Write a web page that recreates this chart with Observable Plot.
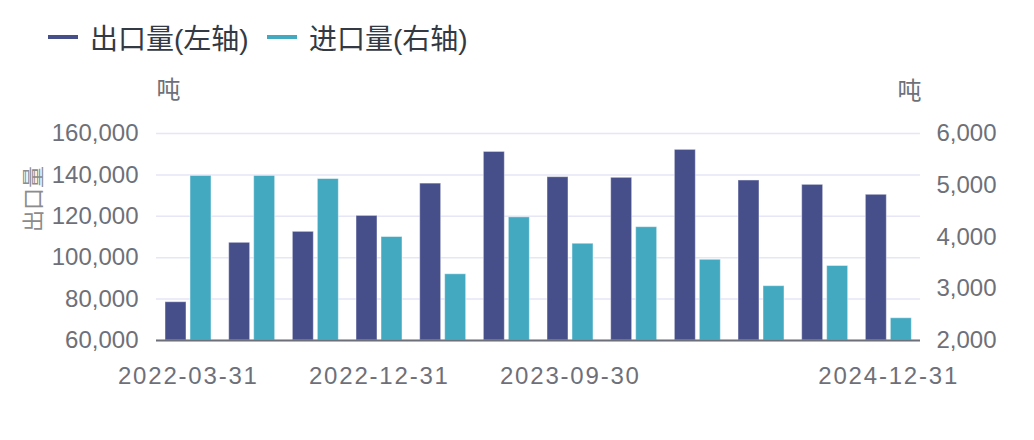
<!DOCTYPE html>
<html>
<head>
<meta charset="utf-8">
<script src="https://cdn.jsdelivr.net/npm/d3@7"></script>
<script src="https://cdn.jsdelivr.net/npm/@observablehq/plot@0.6"></script>
<style>
  body { margin: 0; background: #fff; font-family: "Liberation Sans", "Noto Sans CJK SC", sans-serif; }
  #legend { position: relative; height: 75px; }
  .item { position: absolute; top: 18px; display: flex; align-items: center; height: 38px; font-size: 28px; color: #333a44; font-family: "Liberation Sans", "Noto Sans CJK SC", sans-serif; }
  .sw { width: 30px; height: 4px; margin-right: 12px; }
  svg { display: block; }
  g[aria-label="x-axis tick label"] text { letter-spacing: 1.8px; }
</style>
</head>
<body>
<div id="legend"></div>
<div id="chart"></div>
<script>
const dates = ["2022-03-31","2022-06-30","2022-09-30","2022-12-31","2023-03-31","2023-06-30","2023-09-30","2023-12-31","2024-03-31","2024-06-30","2024-09-30","2024-12-31"];
const exportVals = [78500, 107200, 112500, 120200, 135800, 151100, 138900, 138600, 152100, 137300, 135200, 130400];
const importVals = [5180, 5180, 5120, 4000, 3280, 4380, 3870, 4190, 3560, 3050, 3440, 2430];
const leftTicks = [60000, 80000, 100000, 120000, 140000, 160000];
const rightTicks = [2000, 3000, 4000, 5000, 6000];
const xTickLabels = ["2022-03-31", "2022-12-31", "2023-09-30", "2024-12-31"];
const seriesNames = ["出口量(左轴)", "进口量(右轴)"];
const colors = ["#474f8b", "#43a9c1"];
const unitLabel = "吨";
const leftTitle = "出口量";

const toLeft = v => 60000 + (v - 2000) * 25;
const fromLeft = v => (v - 60000) / 25 + 2000;
const rows = dates.map((d, i) => ({date: d, exp: exportVals[i], imp: importVals[i]}));

// legend
const legend = document.getElementById("legend");
const lx = [48, 267];
seriesNames.forEach((n, i) => {
  const it = document.createElement("div");
  it.className = "item";
  it.style.left = lx[i] + "px";
  it.innerHTML = `<div class="sw" style="background:${colors[i]}"></div><span>${n}</span>`;
  legend.appendChild(it);
});

const fmt = d3.format(",");
const bw = (1034 - 156 - 114) / 12;

const chart = Plot.plot({
  width: 1034,
  height: 365,
  marginLeft: 156,
  marginRight: 114,
  marginTop: 58,
  marginBottom: 100,
  style: {fontSize: "24px", fontFamily: "'Liberation Sans', 'Noto Sans CJK SC', sans-serif", color: "#6e7079", background: "#fff"},
  x: {type: "band", domain: dates, padding: 0, round: false},
  y: {domain: [60000, 160000]},
  marks: [
    Plot.gridY(leftTicks, {stroke: "#e6e6f6", strokeOpacity: 1, strokeWidth: 1.5}),
    Plot.barY(rows, {x: "date", y1: 60000, y2: "exp", fill: colors[0], stroke: "#ffffff", strokeOpacity: 0.45, strokeWidth: 1, insetLeft: 9, insetRight: bw - 30}),
    Plot.barY(rows, {x: "date", y1: 60000, y2: d => toLeft(d.imp), fill: colors[1], stroke: "#ffffff", strokeOpacity: 0.45, strokeWidth: 1, insetLeft: 34, insetRight: bw - 55}),
    Plot.ruleY([60000], {stroke: "#6e7079", strokeWidth: 2}),
    Plot.axisY(leftTicks, {anchor: "left", tickSize: 0, tickPadding: 18, tickFormat: fmt, label: null, fill: "#6e7079"}),
    Plot.axisY(rightTicks.map(toLeft), {anchor: "right", tickSize: 0, tickPadding: 16, tickFormat: v => fmt(Math.round(fromLeft(v))), label: null, fill: "#6e7079"}),
    Plot.axisX(xTickLabels, {tickSize: 0, tickPadding: 26, label: null, fill: "#6e7079"}),
    Plot.text([unitLabel], {frameAnchor: "top-left", dx: 12, dy: -43, text: d => d, textAnchor: "middle", lineAnchor: "middle", fill: "#6e7079", fontSize: 24}),
    Plot.text([unitLabel], {frameAnchor: "top-right", dx: -11, dy: -42, text: d => d, textAnchor: "middle", lineAnchor: "middle", fill: "#6e7079", fontSize: 24}),
    Plot.text([leftTitle], {frameAnchor: "left", dx: -123, dy: -38, rotate: -90, text: d => d, textAnchor: "middle", lineAnchor: "middle", fill: "#8c8c8c", fontSize: 22})
  ]
});
document.getElementById("chart").appendChild(chart);
</script>
</body>
</html>
